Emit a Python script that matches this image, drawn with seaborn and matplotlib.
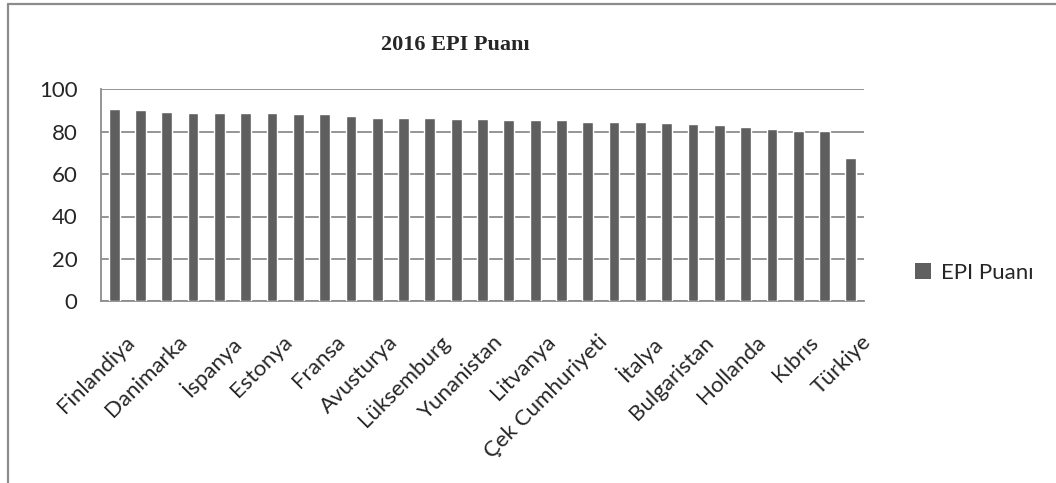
import matplotlib
matplotlib.use("Agg")
import matplotlib.pyplot as plt
import matplotlib.transforms as mtransforms
from matplotlib.lines import Line2D
from matplotlib.patches import Patch
import seaborn as sns
import pandas as pd

countries = ["Finlandiya", "İsveç", "Danimarka", "Slovenya", "İspanya", "Portekiz",
             "Estonya", "Malta", "Fransa", "Birleşik Krallık", "Avusturya", "İrlanda",
             "Lüksemburg", "Hırvatistan", "Yunanistan", "Letonya", "Litvanya", "Slovakya",
             "Çek Cumhuriyeti", "Macaristan", "İtalya", "Almanya", "Bulgaristan", "Romanya",
             "Hollanda", "Polonya", "Kıbrıs", "Belçika", "Türkiye"]
scores = [90.68, 90.43, 89.21, 88.98, 88.91, 88.63, 88.59, 88.48, 88.20, 87.38,
          86.64, 86.60, 86.58, 85.82, 85.81, 85.55, 85.49, 85.30, 84.67, 84.60,
          84.48, 84.26, 83.40, 83.24, 82.03, 81.26, 80.24, 80.15, 67.68]
yticks = [0, 20, 40, 60, 80, 100]
title = "2016 EPI Puanı"
series_name = "EPI Puanı"

df = pd.DataFrame({"Ülke": countries, "Puan": scores})

sns.set_style("white")
plt.rcParams["font.family"] = ["Lato", "DejaVu Sans"]

W, H = 1056, 483
fig = plt.figure(figsize=(W / 100, H / 100), dpi=100)
ax = fig.add_axes([101 / W, 1 - 301.3 / H, (864 - 101) / W, (301.3 - 89.3) / H])

bar_color = "#5f5f5f"
grid_color = "#8c8c8c"

sns.barplot(data=df, x="Ülke", y="Puan", color=bar_color, width=0.41,
            saturation=1, ax=ax, zorder=3)

ax.set_ylim(0, 100)
ax.set_xlim(-0.5, len(countries) - 0.5)
ax.set_yticks(yticks)
ax.set_yticklabels([str(v) for v in yticks], fontsize=16)
ax.yaxis.grid(True, color=grid_color, linewidth=1.3, zorder=0)
ax.set_axisbelow(True)
ax.tick_params(axis="y", length=7, color=grid_color, width=1.3, pad=10)
ax.set_xlabel("")
ax.set_ylabel("")

# x ticks: labels every other category, tick marks at boundaries
idx = list(range(0, len(countries), 2))
ax.set_xticks(idx)
ax.set_xticklabels([countries[i] for i in idx], rotation=45, ha="right",
                   va="top", rotation_mode="anchor", fontsize=16)
ax.tick_params(axis="x", which="major", length=0, pad=22)
ax.set_xticks([i - 0.5 for i in range(len(countries) + 1)], minor=True)
ax.tick_params(axis="x", which="minor", length=7, color=grid_color, width=1.3)

offset = mtransforms.ScaledTranslation(0.1, 0.0, fig.dpi_scale_trans)
for lab in ax.get_xticklabels():
    lab.set_transform(lab.get_transform() + offset)

for s in ["top", "right"]:
    ax.spines[s].set_visible(False)
for s in ["left", "bottom"]:
    ax.spines[s].set_color(grid_color)
    ax.spines[s].set_linewidth(1.3)

fig.text(455 / W, 1 - 45 / H, title, ha="center", va="center",
         fontsize=16, fontweight="bold", family="Liberation Serif")

handle = Patch(facecolor=bar_color, edgecolor="none")
fig.legend(handles=[handle], labels=[series_name], loc="center left",
           bbox_to_anchor=(895 / W, 1 - 273 / H), frameon=False,
           handlelength=0.7, handleheight=0.7, handletextpad=0.45, fontsize=16)

# chart border (top and left visible)
fig.add_artist(Line2D([8 / W, 1], [1 - 4 / H, 1 - 4 / H], color=grid_color, lw=1.6))
fig.add_artist(Line2D([8 / W, 8 / W], [0, 1 - 4 / H], color=grid_color, lw=1.6))

fig.savefig("out.png", dpi=100, facecolor="white")
